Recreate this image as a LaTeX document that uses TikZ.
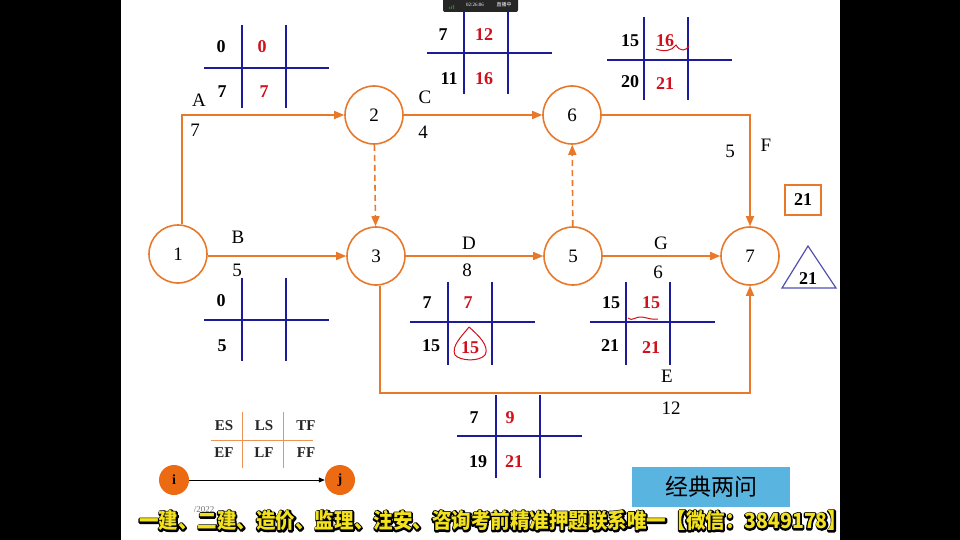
\documentclass[tikz,border=0pt]{standalone}
\usepackage{fontspec}
\setmainfont{Liberation Serif}
\newfontfamily\cjk{Noto Sans CJK SC}
\usetikzlibrary{arrows.meta}
\definecolor{eorange}{HTML}{E8782A}
\definecolor{gblue}{HTML}{1C1C9A}
\definecolor{rred}{HTML}{D0101C}
\definecolor{ifill}{HTML}{EC6A12}
\definecolor{tri}{HTML}{5050B0}
\definecolor{bbox}{HTML}{5AB4E0}
\definecolor{subyel}{HTML}{F2E21E}
\newcommand\tgrid[4]{% x of left vertical, y of horizontal, left end, top
  \draw[gridline] (#3,#2) -- ++(125,0);
  \draw[gridline] (#1,#4) -- ++(0,83);
  \draw[gridline] (#1+44,#4) -- ++(0,83);
}
\newcommand\outlinetext[1]{\rlap{\special{pdf:code q 1 Tr 3.2 w 1 j 0 0 0 RG}#1\special{pdf:code Q}}#1}
\tikzset{
  ev/.style={circle,draw=eorange,line width=1.6pt,minimum size=58pt,inner sep=0pt,fill=white,font=\fontsize{19}{19}\selectfont},
  arc/.style={draw=eorange,line width=1.6pt,-{Triangle[length=10pt,width=8pt]}},
  dum/.style={arc,dash pattern=on 6pt off 4pt},
  gridline/.style={draw=gblue,line width=1.8pt},
  num/.style={font=\fontsize{18}{18}\selectfont\bfseries,inner sep=0pt},
  rnum/.style={num,text=rred},
  lab/.style={font=\fontsize{19}{19}\selectfont,inner sep=0pt},
  leg/.style={font=\fontsize{15}{15}\selectfont\bfseries,inner sep=0pt,text=black!85},
  legline/.style={draw=eorange!80,line width=1pt},
  ij/.style={circle,fill=ifill,minimum size=30pt,inner sep=0pt,font=\fontsize{14}{14}\selectfont\bfseries},
  hand/.style={draw=rred,line width=1pt},
  sub/.style={font=\cjk\bfseries\fontsize{21}{21}\selectfont,inner sep=0pt,anchor=west}
}
\begin{document}
\begin{tikzpicture}[x=1pt,y=-1pt]
\useasboundingbox (0,0) rectangle (960,540);
\fill[white] (0,0) rectangle (960,540);
\fill[black] (0,0) rectangle (121,540);
\fill[black] (840,0) rectangle (960,540);

% events
\node[ev] (n1) at (178,254) {1};
\node[ev] (n2) at (374,115) {2};
\node[ev] (n3) at (376,256) {3};
\node[ev] (n6) at (572,115) {6};
\node[ev] (n5) at (573,256) {5};
\node[ev] (n7) at (750,256) {7};

% activities
\draw[arc] (n1.82) |- (n2);
\draw[arc] (n1.east |- n3) -- (n3);
\draw[dum] (n2) -- (n3);
\draw[arc] (n2) -- (n6);
\draw[arc] (n6) -| (n7);
\draw[arc] (n3) -- (n5);
\draw[dum] (n5) -- (n6);
\draw[arc] (n5) -- (n7);
\coordinate (eb) at (380,393);
\draw[arc] (n3.south -| eb) -- (eb) -| (n7.south);

% labels
\node[lab] (la) at (199,100) {A};
\node[lab] (la2) at (195,130) {7};
\node[lab] (lb) at (238,237) {B};
\node[lab] (lb2) at (237,270) {5};
\node[lab] (lc) at (425,97) {C};
\node[lab] (lc2) at (423,132) {4};
\node[lab] (lf) at (766,145) {F};
\node[lab] (lf2) at (730,151) {5};
\node[lab] (ld) at (469,243) {D};
\node[lab] (ld2) at (467,270) {8};
\node[lab] (lg) at (661,243) {G};
\node[lab] (lg2) at (658,272) {6};
\node[lab] (le) at (667,376) {E};
\node[lab] (le2) at (671,408) {12};

% grids
\tgrid{242}{68}{204}{25}
\node[num] (a1) at (221,47) {0};
\node[rnum] (a2) at (262,47) {0};
\node[num] (a3) at (222,92) {7};
\node[rnum] (a4) at (264,92) {7};

\tgrid{464}{53}{427}{11}
\node[num] (c1) at (443,35) {7};
\node[rnum] (c2) at (484,35) {12};
\node[num] (c3) at (449,79) {11};
\node[rnum] (c4) at (484,79) {16};

\tgrid{644}{60}{607}{17}
\node[num] (f1) at (630,41) {15};
\node[rnum] (f2) at (665,41) {16};
\node[num] (f3) at (630,82) {20};
\node[rnum] (f4) at (665,84) {21};
\draw[hand] (656,49) .. controls (664,52) and (672,51) .. (676,45) .. controls (680,52) and (686,51) .. (689,46);

\tgrid{242}{320}{204}{278}
\node[num] (b1) at (221,301) {0};
\node[num] (b3) at (222,346) {5};

\tgrid{448}{322}{410}{282}
\node[num] (d1) at (427,303) {7};
\node[rnum] (d2) at (468,303) {7};
\node[num] (d3) at (431,346) {15};
\node[rnum] (d4) at (470,348) {15};
\draw[hand] (469,327) .. controls (478,335) and (490,346) .. (485,355) .. controls (479,362) and (460,361) .. (455,355) .. controls (451,346) and (462,336) .. (469,327);

\tgrid{626}{322}{590}{282}
\node[num] (g1) at (611,303) {15};
\node[rnum] (g2) at (651,303) {15};
\node[num] (g3) at (610,346) {21};
\node[rnum] (g4) at (651,348) {21};
\draw[hand] (628,318) .. controls (632,322) and (636,316) .. (642,317) .. controls (648,318) and (652,320) .. (658,319);

\tgrid{496}{436}{457}{395}
\node[num] (e1) at (474,418) {7};
\node[rnum] (e2) at (510,418) {9};
\node[num] (e3) at (478,462) {19};
\node[rnum] (e4) at (514,462) {21};

% total duration marks
\node[draw=eorange,line width=1.2pt,minimum width=36pt,minimum height=30pt,inner sep=0pt,font=\fontsize{18}{18}\selectfont\bfseries] (tbox) at (803,200) {21};
\draw[draw=tri,line width=1.2pt] (808,246) -- (782,288) -- (836,288) -- cycle;
\node[num] (ttri) at (808,279) {21};

% legend
\draw[legline] (211,440) -- (313,440);
\draw[legline] (242,412) -- (242,468);
\draw[legline] (283,412) -- (283,468);
\node[leg] (les) at (224,426) {ES};
\node[leg] (lls) at (264,426) {LS};
\node[leg] (ltf) at (306,426) {TF};
\node[leg] (lef) at (224,453) {EF};
\node[leg] (llf) at (264,453) {LF};
\node[leg] (lff) at (306,453) {FF};
\node[ij] (ni) at (174,480) {i};
\node[ij] (nj) at (340,480) {j};
\draw[black,line width=0.8pt,-{Triangle[length=6pt,width=5pt]}] (ni) -- (nj);

% blue box
\node[fill=bbox,minimum width=158pt,minimum height=40pt,inner sep=0pt,font=\cjk\fontsize{23}{23}\selectfont] (qbox) at (711,487) {经典两问};

% status overlay
\fill[black!85,rounded corners=2pt] (443,-3) rectangle (518,12);
\node[inner sep=0pt,text=white,font=\fontsize{5}{5}\selectfont] (st) at (475,5) {02:26:06};
\node[inner sep=0pt,text=white,font=\cjk\fontsize{5}{5}\selectfont] (st2) at (504,5) {直播中};
\fill[green!60!black] (449,7) rectangle (450,9) (451,6) rectangle (452,9) (453,5) rectangle (454,9);

% subtitle
\node[inner sep=0pt,text=black!55,font=\fontsize{9}{9}\selectfont] (yr) at (204,510) {/2022};
\node[sub,text=subyel] (subt) at (139,521) {\scalebox{0.93}[1]{\outlinetext{一建、二建、造价、监理、注安、咨询考前精准押题联系唯一【微信：3849178】}}};
\end{tikzpicture}
\end{document}
